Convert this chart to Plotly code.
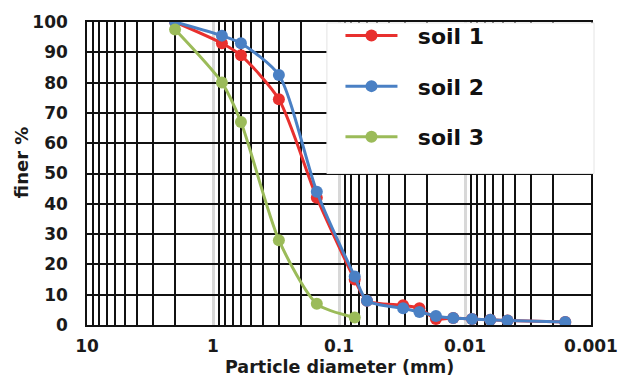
import plotly.graph_objects as go

# ---- data ----
diam_12 = [2, 0.85, 0.6, 0.3, 0.15, 0.075, 0.06, 0.031, 0.023, 0.017, 0.0124, 0.0088, 0.0063, 0.0046, 0.0016]
soil1 = [100, 93, 89, 74.5, 42, 15, 8, 6.5, 5.5, 2, 2.3, 2, 1.7, 1.5, 1]
soil2 = [100, 95.5, 93, 82.5, 44, 16, 8, 5.5, 4.3, 3, 2.3, 2, 1.7, 1.5, 1]
diam_3 = [2, 0.85, 0.6, 0.3, 0.15, 0.075]
soil3 = [97.5, 80, 67, 28, 7, 2.5]

x_tickvals = [10, 1, 0.1, 0.01, 0.001]
x_ticktext = ["10", "1", "0.1", "0.01", "0.001"]
minor_vals = [k * 10.0 ** e for e in range(-3, 1) for k in range(2, 10)]

names = ["soil 1", "soil 2", "soil 3"]
colors = ["#e8302e", "#4a80c4", "#9bbb59"]

FONT = "DejaVu Sans"
NB = "\u00a0\u00a0"

fig = go.Figure()
series = [(diam_12, soil1), (diam_12, soil2), (diam_3, soil3)]
for i, ((xs, ys), nm, c) in enumerate(zip(series, names, colors)):
    fig.add_trace(go.Scatter(
        x=xs, y=ys, name=NB + nm, mode="lines+markers",
        line=dict(color=c, width=3, shape="spline", smoothing=0.7),
        marker=dict(color=c, size=12),
        legendgroup=f"g{i}",
    ))

fig.update_layout(
    width=630, height=377,
    margin=dict(l=87, r=28, t=21, b=52),
    paper_bgcolor="white", plot_bgcolor="white",
    font=dict(family=FONT, color="#1a1a1a"),
    showlegend=True,
    legend=dict(
        x=(346 - 87) / 515, y=1.024, xanchor="left", yanchor="top",
        bgcolor="rgba(0,0,0,0)", borderwidth=0,
        font=dict(family=FONT, size=22, weight="bold", color="#111"),
        itemwidth=52, tracegroupgap=19,
    ),
    shapes=[dict(
        type="rect", xref="paper", yref="paper", layer="above",
        x0=0.476, x1=1.006, y0=0.50, y1=0.997,
        fillcolor="white", line=dict(color="#e4e4e4", width=1),
    )],
    annotations=[
        dict(text="Particle diameter (mm)", xref="paper", yref="paper",
             x=0.501, y=-0.140, xanchor="center", yanchor="middle", showarrow=False,
             font=dict(family=FONT, size=17.5, weight="bold", color="#1a1a1a")),
        dict(text="finer %", xref="paper", yref="paper", textangle=-90,
             x=-0.130, y=0.539, xanchor="center", yanchor="middle", showarrow=False,
             font=dict(family=FONT, size=18, weight="bold", color="#1a1a1a")),
    ],
)

fig.update_xaxes(
    type="log", range=[1, -3],
    tickmode="array", tickvals=x_tickvals, ticktext=x_ticktext,
    ticks="", ticklabelstandoff=5,
    tickfont=dict(family=FONT, size=17, weight="bold", color="#1a1a1a"),
    showgrid=True, gridcolor="#d8d8d8", gridwidth=2.5,
    minor=dict(tickmode="array", tickvals=minor_vals, showgrid=True,
               gridcolor="#111111", gridwidth=1.5, ticks=""),
    showline=True, linecolor="#111111", linewidth=1.5, mirror=True,
    zeroline=False,
)
fig.update_yaxes(
    range=[0, 100], dtick=10, tick0=0,
    ticks="", ticklabelstandoff=14,
    tickfont=dict(family=FONT, size=17, weight="bold", color="#1a1a1a"),
    showgrid=True, gridcolor="#111111", gridwidth=1.5,
    showline=True, linecolor="#111111", linewidth=1.5, mirror=True,
    zeroline=False,
)

fig.write_html("out.html")
